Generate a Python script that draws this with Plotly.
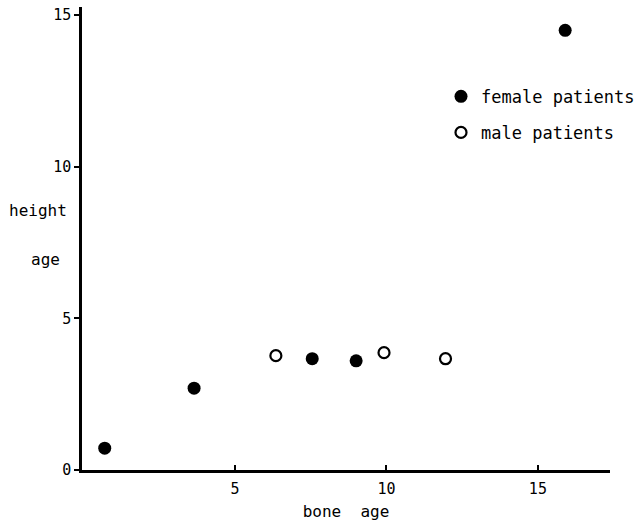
import plotly.graph_objects as go

female_bone_age = [0.7, 3.65, 7.55, 9.0, 15.9]
female_height_age = [0.72, 2.7, 3.67, 3.6, 14.5]
male_bone_age = [6.35, 9.92, 11.95]
male_height_age = [3.77, 3.87, 3.67]
tick_vals = [0, 5, 10, 15]
x_ticks = [5, 10, 15]

FONT = "DejaVu Sans Mono"

fig = go.Figure()
fig.add_trace(go.Scatter(
    x=female_bone_age, y=female_height_age, mode="markers", name="female patients",
    legendgroup="f",
    marker=dict(symbol="circle", size=13, color="black"),
))
fig.add_trace(go.Scatter(
    x=male_bone_age, y=male_height_age, mode="markers", name="male patients",
    legendgroup="m",
    marker=dict(symbol="circle-open", size=11, color="black", line=dict(width=2.2)),
))

L, R, T, B = 82, 25, 7, 55
PW = 635 - L - R
PH = 525 - T - B

fig.update_layout(
    width=635, height=525,
    margin=dict(l=L, r=R, t=T, b=B, autoexpand=False),
    plot_bgcolor="white", paper_bgcolor="white",
    font=dict(family=FONT, size=15, color="black"),
    showlegend=True,
    legend=dict(
        x=(441 - L) / PW, y=0.845, xanchor="left", yanchor="top",
        font=dict(family=FONT, size=17, color="black"),
        traceorder="grouped", tracegroupgap=11,
        bgcolor="rgba(0,0,0,0)",
    ),
    xaxis=dict(
        range=[-0.05, 17.38], tickvals=x_ticks, ticks="inside", ticklen=5,
        tickwidth=2, tickcolor="black", showline=True, linewidth=2.5, linecolor="black",
        showgrid=False, zeroline=False, tickfont=dict(size=15), ticklabelstandoff=3,
        title=dict(text="bone\u00a0\u00a0age", font=dict(size=16), standoff=10),
    ),
    yaxis=dict(
        range=[0, 15.27], tickvals=tick_vals, ticks="outside", ticklen=5,
        tickwidth=2, tickcolor="black", showline=True, linewidth=2.5, linecolor="black",
        showgrid=False, zeroline=False, tickfont=dict(size=15),
    ),
    annotations=[
        dict(text="height", xref="paper", yref="paper", x=(38 - L) / PW, y=(470 - 210) / PH,
             showarrow=False, font=dict(family=FONT, size=16), xanchor="center", yanchor="middle"),
        dict(text="age", xref="paper", yref="paper", x=(45 - L) / PW, y=(470 - 259) / PH,
             showarrow=False, font=dict(family=FONT, size=16), xanchor="center", yanchor="middle"),
    ],
)

fig.write_html("out.html", config={"displayModeBar": False},
               post_script="document.body.style.margin='0';")
